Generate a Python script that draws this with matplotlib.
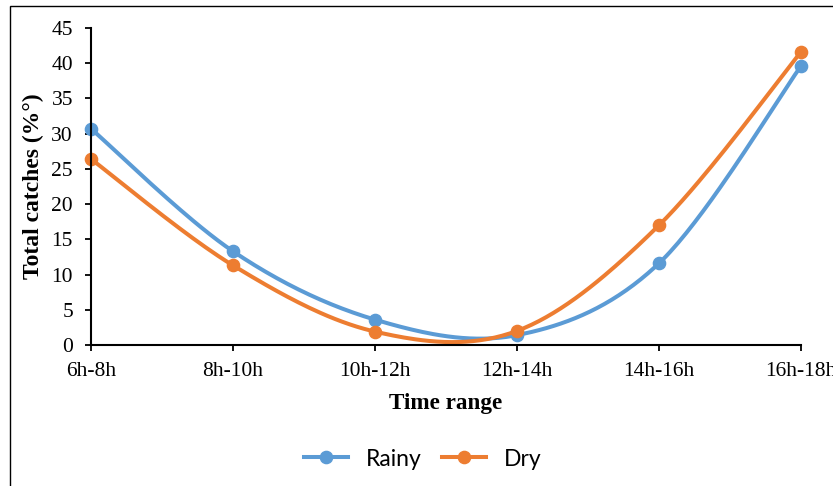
import numpy as np
from matplotlib import pyplot as plt
from matplotlib.patches import Rectangle
from matplotlib.lines import Line2D

time_ranges = ["6h-8h", "8h-10h", "10h-12h", "12h-14h", "14h-16h", "16h-18h"]
rainy = [30.7, 13.3, 3.6, 1.4, 11.6, 39.6]
dry = [26.4, 11.3, 1.9, 2.0, 17.0, 41.6]

blue = "#5B9BD5"
orange = "#ED7D31"


def smooth(xs, ys, n=40):
    # Excel-like smoothing: Catmull-Rom turned into cubic Bezier segments
    p = np.column_stack([xs, ys]).astype(float)
    pts = np.vstack([p[0], p, p[-1]])
    out = []
    t = np.linspace(0, 1, n)[:, None]
    for i in range(1, len(pts) - 2):
        p0, p1, p2, p3 = pts[i - 1], pts[i], pts[i + 1], pts[i + 2]
        c1 = p1 + (p2 - p0) / 6
        c2 = p2 - (p3 - p1) / 6
        seg = ((1 - t) ** 3) * p1 + 3 * ((1 - t) ** 2) * t * c1 \
            + 3 * (1 - t) * t ** 2 * c2 + t ** 3 * p2
        out.append(seg)
    curve = np.vstack(out)
    return curve[:, 0], curve[:, 1]


def main():
    plt.rcParams["font.family"] = ["Liberation Serif", "DejaVu Serif"]

    fig = plt.figure(figsize=(8.33, 4.86), dpi=100)
    fig.patches.append(Rectangle((10 / 833, -0.1), 1.2, 1.1 - 6 / 486,
                                 transform=fig.transFigure, fill=False,
                                 edgecolor="black", linewidth=1.0))

    ax = fig.add_axes([91 / 833, 1 - 345 / 486, 710 / 833, 317 / 486])
    x = np.arange(len(time_ranges))

    for vals, color in [(rainy, blue), (dry, orange)]:
        sx, sy = smooth(x, vals)
        ax.plot(sx, sy, color=color, linewidth=2.9, solid_capstyle="round",
                clip_on=False)
        ax.plot(x, vals, "o", color=color, markersize=8.8, clip_on=False)

    ax.set_xlim(0, len(time_ranges) - 1)
    ax.set_ylim(0, 45)
    ax.set_yticks(range(0, 50, 5))
    ax.set_xticks(x)
    ax.set_xticklabels(time_ranges)
    ax.tick_params(labelsize=15.5, direction="out", length=4, width=1.3,
                   color="black")
    ax.tick_params(axis="y", pad=9)
    ax.tick_params(axis="x", pad=8)
    for s in ["top", "right"]:
        ax.spines[s].set_visible(False)
    for s in ["left", "bottom"]:
        ax.spines[s].set_linewidth(1.5)

    ax.set_xlabel("Time range", fontsize=16.7, fontweight="bold")
    ax.set_ylabel("Total catches (%\u00b0)", fontsize=17, fontweight="bold")
    ax.xaxis.label.set_verticalalignment("center")
    ax.xaxis.set_label_coords(0.5, -(403 - 345) / 317)
    ax.yaxis.label.set_verticalalignment("center")
    ax.yaxis.set_label_coords(-(91 - 33) / 710, 0.5)

    handles = [
        Line2D([], [], color=blue, linewidth=2.9, marker="o", markersize=8.8),
        Line2D([], [], color=orange, linewidth=2.9, marker="o", markersize=8.8),
    ]
    fig.legend(handles, ["Rainy", "Dry"], loc="center",
               bbox_to_anchor=(423 / 833, 1 - 459 / 486), ncol=2,
               frameon=False, prop={"family": "Lato", "size": 16.5},
               handlelength=1.9, handletextpad=0.8, columnspacing=0.9)

    fig.savefig("out.png", dpi=100)


if __name__ == "__main__":
    main()
